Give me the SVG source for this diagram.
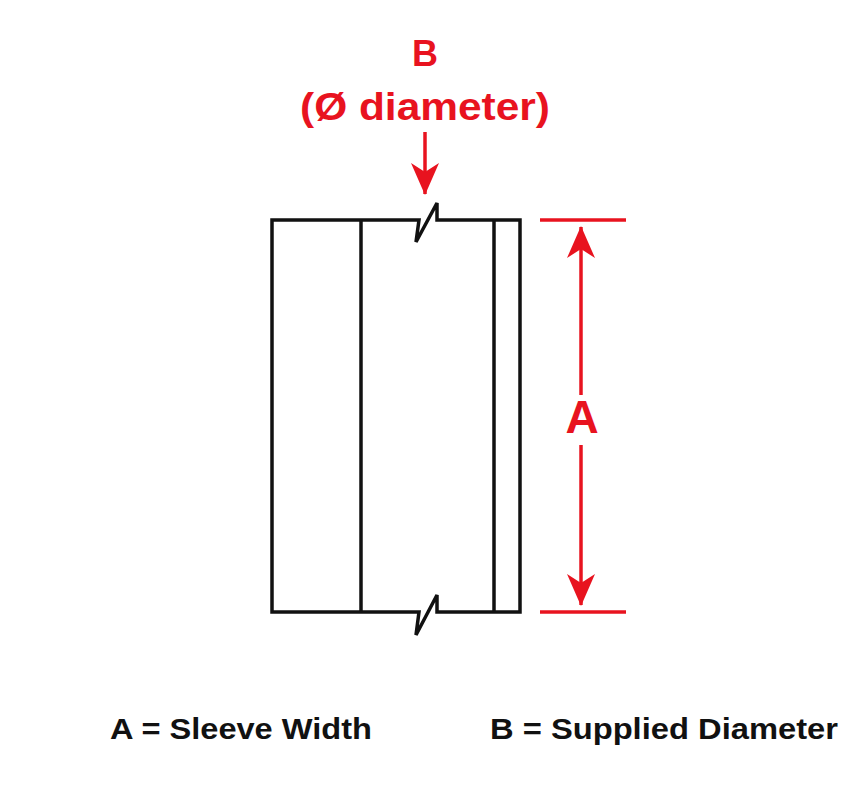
<svg xmlns="http://www.w3.org/2000/svg" width="867" height="800" viewBox="0 0 867 800">
<style>
.k{fill:none;stroke:#111;stroke-width:3.5;stroke-linejoin:miter}
.r{stroke:#e8131f;stroke-width:3.5;fill:none}
.rt{fill:#e8131f;font-family:"Liberation Sans",Arial,sans-serif;font-weight:bold;text-anchor:middle}
.bt{fill:#111;font-family:"Liberation Sans",Arial,sans-serif;font-weight:bold;font-size:29px}
</style>
<defs>
<marker id="ah" viewBox="0 0 32 28" refX="31" refY="14" markerWidth="32" markerHeight="28" markerUnits="userSpaceOnUse" orient="auto">
<path d="M0,0 L32,14 L0,28 L9,14 Z" fill="#e8131f"/>
</marker>
</defs>
<rect width="867" height="800" fill="#fff"/>
<g id="sleeve">
<path class="k" d="M419,220 L272,220 L272,612 L419,612 L416,635 L437,595 L437,612 L520,612 L520,220 L437,220 L437,203 L416,242 L419,220 Z"/>
<line class="k" x1="361" y1="220" x2="361" y2="612"/>
<line class="k" x1="494" y1="220" x2="494" y2="612"/>
</g>
<g id="connectors">
<line class="r" x1="425" y1="132" x2="425" y2="194" marker-end="url(#ah)"/>
<line class="r" x1="540" y1="220" x2="626" y2="220"/>
<line class="r" x1="540" y1="612" x2="626" y2="612"/>
<line class="r" x1="581" y1="395" x2="581" y2="227" marker-end="url(#ah)"/>
<line class="r" x1="581" y1="445" x2="581" y2="605" marker-end="url(#ah)"/>
</g>
<g id="labels">
<text class="rt" x="425" y="66" font-size="36">B</text>
<text class="rt" x="425" y="120" font-size="38" textLength="250" lengthAdjust="spacingAndGlyphs">(Ø diameter)</text>
<text class="rt" x="582" y="433" font-size="46">A</text>
<text class="bt" x="110" y="739" textLength="262" lengthAdjust="spacingAndGlyphs">A = Sleeve Width</text>
<text class="bt" x="490" y="739" textLength="348" lengthAdjust="spacingAndGlyphs">B = Supplied Diameter</text>
</g>
</svg>
